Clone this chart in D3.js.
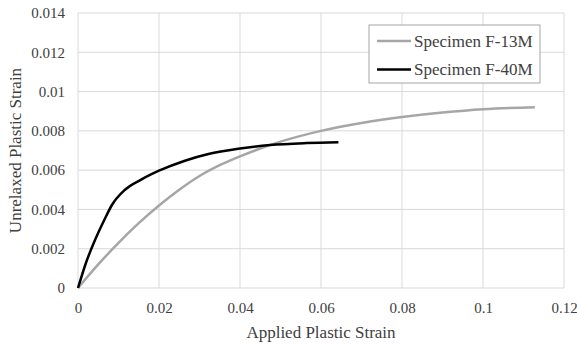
<!DOCTYPE html>
<html>
<head>
<meta charset="utf-8">
<script src="https://cdn.jsdelivr.net/npm/d3@7"></script>
<style>
  body { margin: 0; background: #fff; }
  text { font-family: "Liberation Serif", "Times New Roman", serif; fill: #404040; }
</style>
</head>
<body>
<div id="chart"></div>
<script>
// data
var seriesNames = ["Specimen F-13M", "Specimen F-40M"];
var seriesColors = ["#a6a6a6", "#000000"];

var f13_x = [0, 0.005, 0.01, 0.015, 0.02, 0.025, 0.03, 0.035, 0.04, 0.045, 0.05, 0.06, 0.07, 0.08, 0.09, 0.1, 0.1128];
var f13_y = [0, 0.0012, 0.0023, 0.0033, 0.0042, 0.0050, 0.0057, 0.00625, 0.0067, 0.0071, 0.00745, 0.0080, 0.0084, 0.0087, 0.00893, 0.0091, 0.0092];

var f40_x = [0, 0.002, 0.0042, 0.0067, 0.0083, 0.0116, 0.0157, 0.02, 0.0264, 0.0322, 0.04, 0.0474, 0.0565, 0.0643];
var f40_y = [0, 0.0013, 0.00244, 0.00355, 0.0042, 0.0050, 0.00553, 0.00597, 0.00648, 0.00682, 0.0071, 0.00728, 0.00738, 0.00742];

var xTicks = [0, 0.02, 0.04, 0.06, 0.08, 0.1, 0.12];
var yTicks = [0, 0.002, 0.004, 0.006, 0.008, 0.01, 0.012, 0.014];

// dimensions
var W = 577, H = 346;
var margin = { top: 13, right: 13, bottom: 58, left: 78 },
  width = W - margin.left - margin.right,
  height = H - margin.top - margin.bottom;

var serif = "'Liberation Serif', 'Times New Roman', serif";

var svg = d3.select("#chart").append("svg")
  .attr("width", W).attr("height", H);

var g = svg.append("g")
  .attr("transform", "translate(" + margin.left + "," + margin.top + ")");

var x = d3.scaleLinear().domain([0, 0.12]).range([0, width]);
var y = d3.scaleLinear().domain([0, 0.014]).range([height, 0]);

// grid lines
g.append("g").selectAll("line").data(yTicks).enter().append("line")
  .attr("x1", 0).attr("x2", width)
  .attr("y1", function (d) { return y(d); }).attr("y2", function (d) { return y(d); })
  .attr("stroke", "#d9d9d9").attr("stroke-width", 1);
g.append("g").selectAll("line").data(xTicks).enter().append("line")
  .attr("y1", 0).attr("y2", height)
  .attr("x1", function (d) { return x(d); }).attr("x2", function (d) { return x(d); })
  .attr("stroke", "#d9d9d9").attr("stroke-width", 1);

// axes (labels only)
var fmt = function (d) { return String(+d.toFixed(3)); };
var xAxis = g.append("g")
  .attr("transform", "translate(0," + height + ")")
  .call(d3.axisBottom(x).tickValues(xTicks).tickSize(0).tickPadding(14).tickFormat(fmt));
var yAxis = g.append("g")
  .call(d3.axisLeft(y).tickValues(yTicks).tickSize(0).tickPadding(13).tickFormat(fmt));
[xAxis, yAxis].forEach(function (a) {
  a.attr("font-family", null).attr("font-size", null);
  a.select(".domain").remove();
  a.selectAll("text")
    .style("font-family", serif)
    .style("font-size", "15px")
    .attr("fill", "#404040");
});

// lines
var line = d3.line()
  .x(function (d) { return x(d[0]); })
  .y(function (d) { return y(d[1]); })
  .curve(d3.curveMonotoneX);

var seriesData = [d3.zip(f13_x, f13_y), d3.zip(f40_x, f40_y)];

g.selectAll("path.series").data(seriesData).enter().append("path")
  .attr("class", "series")
  .attr("d", line)
  .attr("fill", "none")
  .attr("stroke", function (d, i) { return seriesColors[i]; })
  .attr("stroke-width", 2.5)
  .attr("stroke-linejoin", "round");

// axis titles
svg.append("text")
  .attr("x", margin.left + width / 2).attr("y", 338)
  .attr("text-anchor", "middle")
  .style("font-family", serif).style("font-size", "17px")
  .text("Applied Plastic Strain");

svg.append("text")
  .attr("transform", "translate(21," + (margin.top + height / 2) + ") rotate(-90)")
  .attr("text-anchor", "middle")
  .style("font-family", serif).style("font-size", "17px")
  .text("Unrelaxed Plastic Strain");

// legend
var legend = svg.append("g").attr("transform", "translate(369,25)");
legend.append("rect")
  .attr("width", 171).attr("height", 58)
  .attr("fill", "#fff").attr("stroke", "#a6a6a6").attr("stroke-width", 1);
var items = legend.selectAll("g.item").data(seriesNames).enter().append("g")
  .attr("transform", function (d, i) { return "translate(0," + (16 + i * 28.5) + ")"; });
items.append("line")
  .attr("x1", 8).attr("x2", 42).attr("y1", 0).attr("y2", 0)
  .attr("stroke", function (d, i) { return seriesColors[i]; })
  .attr("stroke-width", 2.5);
items.append("text")
  .attr("x", 45).attr("dy", "0.35em")
  .style("font-family", serif).style("font-size", "17px")
  .text(function (d) { return d; });
</script>
</body>
</html>
